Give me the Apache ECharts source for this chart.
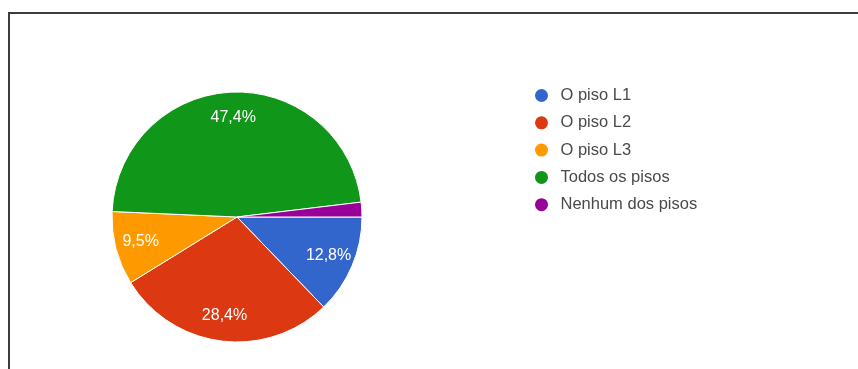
<!DOCTYPE html>
<html>
<head>
<meta charset="utf-8">
<script src="https://cdn.jsdelivr.net/npm/echarts@6/dist/echarts.min.js"></script>
<style>
  html, body { margin: 0; padding: 0; background: #fff; }
  #chart { position: absolute; left: 0; top: 0; width: 858px; height: 369px; }
  #frame {
    position: absolute; left: 8px; top: 12px; width: 860px; height: 370px;
    border-top: 2px solid #3c3c3c; border-left: 2px solid #3c3c3c;
    pointer-events: none;
  }
</style>
</head>
<body>
<div id="chart"></div>
<div id="frame"></div>
<script>
// Answer options and their shares (percent)
const categories = ['O piso L1', 'O piso L2', 'O piso L3', 'Todos os pisos', 'Nenhum dos pisos'];
const shares = [12.8, 28.4, 9.5, 47.4, 1.9];
const palette = ['#3366cc', '#dc3912', '#ff9900', '#109618', '#990099'];

const pieData = categories.map((name, i) => ({ name, value: shares[i] }));
const fmt = v => v.toFixed(1).replace('.', ',') + '%';

const chart = echarts.init(document.getElementById('chart'), null, { renderer: 'canvas' });
chart.setOption({
  backgroundColor: '#ffffff',
  color: palette,
  animation: false,
  legend: {
    orient: 'vertical',
    left: 528,
    top: 82,
    icon: 'circle',
    itemWidth: 28,
    itemHeight: 15,
    itemGap: 10.3,
    data: categories,
    textStyle: { color: '#4a4a4a', fontSize: 16.5, lineHeight: 16, fontFamily: 'Liberation Sans, Arial, sans-serif' }
  },
  series: [
    {
      // filled slices
      type: 'pie',
      center: [237, 217],
      radius: [0, 125],
      startAngle: 0,
      clockwise: true,
      avoidLabelOverlap: false,
      silent: true,
      label: { show: false },
      labelLine: { show: false },
      itemStyle: { borderColor: '#ffffff', borderWidth: 1 },
      data: pieData
    },
    {
      // transparent ring that carries the percentage labels
      type: 'pie',
      center: [237, 217],
      radius: [68, 125],
      startAngle: 0,
      clockwise: true,
      avoidLabelOverlap: false,
      silent: true,
      legendHoverLink: false,
      itemStyle: { color: 'rgba(0,0,0,0)', borderWidth: 0 },
      label: {
        show: true,
        position: 'inside',
        color: '#ffffff',
        fontSize: 16,
        fontFamily: 'Liberation Sans, Arial, sans-serif',
        formatter: p => (p.value < 5 ? '' : fmt(p.value))
      },
      labelLine: { show: false },
      data: pieData
    }
  ]
});
</script>
</body>
</html>
